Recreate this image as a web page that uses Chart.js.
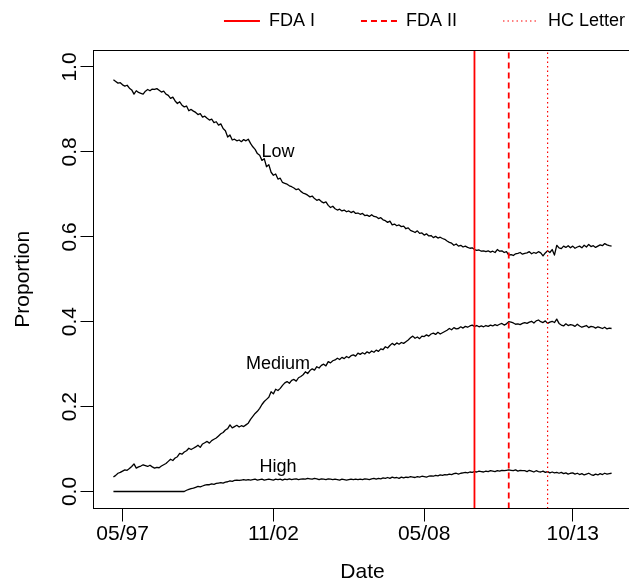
<!DOCTYPE html>
<html>
<head>
<meta charset="utf-8">
<title>Proportion by date</title>
<script src="https://cdn.jsdelivr.net/npm/chart.js@4.4.1/dist/chart.umd.min.js"></script>
<style>
  html, body { margin: 0; padding: 0; background: #fff; overflow: hidden; }
  canvas { display: block; }
</style>
</head>
<body>
<canvas id="propChart" width="671" height="579"></canvas>
<script>
// monthly shares, Jan 1997 .. Mar 2015 (one row per year)
const lowShare = [
  0.970, 0.966, 0.962, 0.963, 0.958, 0.955, 0.957, 0.950, 0.946, 0.936, 0.944, 0.940,
  0.938, 0.936, 0.943, 0.947, 0.944, 0.948, 0.947, 0.949, 0.945, 0.941, 0.943, 0.936,
  0.933, 0.926, 0.929, 0.920, 0.914, 0.918, 0.910, 0.906, 0.908, 0.897, 0.900, 0.896,
  0.893, 0.888, 0.890, 0.882, 0.884, 0.879, 0.875, 0.877, 0.869, 0.871, 0.863, 0.866,
  0.855, 0.850, 0.835, 0.840, 0.828, 0.830, 0.826, 0.828, 0.824, 0.829, 0.826, 0.830,
  0.820, 0.812, 0.806, 0.796, 0.792, 0.780, 0.784, 0.765, 0.770, 0.752, 0.745, 0.748,
  0.736, 0.738, 0.728, 0.726, 0.724, 0.720, 0.718, 0.715, 0.711, 0.713, 0.707, 0.703,
  0.701, 0.698, 0.694, 0.696, 0.690, 0.686, 0.688, 0.683, 0.680, 0.682, 0.674, 0.669,
  0.672, 0.666, 0.663, 0.665, 0.661, 0.663, 0.659, 0.661, 0.657, 0.660, 0.655, 0.656,
  0.653, 0.655, 0.650, 0.651, 0.648, 0.652, 0.648, 0.647, 0.643, 0.645, 0.640, 0.638,
  0.634, 0.637, 0.628, 0.630, 0.626, 0.628, 0.624, 0.625, 0.619, 0.621, 0.615, 0.613,
  0.610, 0.614, 0.608, 0.609, 0.604, 0.607, 0.602, 0.603, 0.598, 0.601, 0.597, 0.599,
  0.596, 0.594, 0.590, 0.587, 0.585, 0.580, 0.583, 0.578, 0.580, 0.576, 0.578, 0.575,
  0.573, 0.574, 0.570, 0.568, 0.569, 0.566, 0.567, 0.565, 0.567, 0.564, 0.566, 0.563,
  0.570, 0.566, 0.567, 0.563, 0.565, 0.557, 0.558, 0.556, 0.560, 0.561, 0.563, 0.559,
  0.561, 0.562, 0.565, 0.560, 0.563, 0.561, 0.565, 0.562, 0.555, 0.562, 0.567, 0.563,
  0.570, 0.557, 0.580, 0.574, 0.572, 0.578, 0.575, 0.579, 0.574, 0.578, 0.573, 0.576,
  0.578, 0.574, 0.580, 0.576, 0.582, 0.577, 0.579, 0.575, 0.578, 0.581, 0.579, 0.584,
  0.581, 0.579, 0.578
];

const mediumShare = [
  0.034, 0.038, 0.043, 0.045, 0.048, 0.051, 0.050, 0.054, 0.059, 0.065, 0.055, 0.058,
  0.060, 0.063, 0.061, 0.059, 0.062, 0.058, 0.055, 0.057, 0.056, 0.060, 0.063, 0.066,
  0.071, 0.076, 0.073, 0.079, 0.082, 0.090, 0.088, 0.093, 0.096, 0.102, 0.099, 0.102,
  0.105, 0.109, 0.104, 0.112, 0.115, 0.118, 0.114, 0.120, 0.123, 0.126, 0.131, 0.136,
  0.139, 0.145, 0.148, 0.157, 0.150, 0.153, 0.156, 0.152, 0.155, 0.153, 0.157, 0.161,
  0.170, 0.177, 0.184, 0.189, 0.196, 0.205, 0.212, 0.217, 0.222, 0.235, 0.230, 0.241,
  0.238, 0.243, 0.250, 0.256, 0.259, 0.255, 0.262, 0.264, 0.260, 0.268, 0.271, 0.275,
  0.282, 0.278, 0.285, 0.289, 0.286, 0.294, 0.291, 0.297, 0.300, 0.296, 0.306, 0.303,
  0.308, 0.310, 0.314, 0.311, 0.316, 0.313, 0.318, 0.315, 0.320, 0.322, 0.319, 0.326,
  0.323, 0.327, 0.324, 0.329, 0.326, 0.331, 0.328, 0.333, 0.330, 0.336, 0.334, 0.341,
  0.338, 0.344, 0.349, 0.345, 0.350, 0.347, 0.351, 0.349, 0.353, 0.357, 0.362, 0.366,
  0.361, 0.364, 0.360, 0.366, 0.365, 0.369, 0.366, 0.371, 0.373, 0.370, 0.375, 0.371,
  0.374, 0.377, 0.380, 0.384, 0.381, 0.386, 0.383, 0.384, 0.388, 0.385, 0.389, 0.387,
  0.390, 0.392, 0.389, 0.391, 0.388, 0.390, 0.388, 0.391, 0.389, 0.392, 0.390, 0.393,
  0.391, 0.394, 0.396, 0.392, 0.395, 0.400, 0.399, 0.397, 0.394, 0.395, 0.393, 0.396,
  0.398, 0.396, 0.399, 0.401, 0.397, 0.402, 0.404, 0.400, 0.398, 0.402, 0.396, 0.399,
  0.401, 0.398, 0.406, 0.396, 0.392, 0.390, 0.395, 0.391, 0.393, 0.392, 0.389, 0.394,
  0.390, 0.387, 0.389, 0.391, 0.386, 0.389, 0.388, 0.385, 0.388, 0.386, 0.384, 0.387,
  0.383, 0.385, 0.384
];

const highShare = [
  0, 0, 0, 0, 0, 0, 0, 0, 0, 0, 0, 0,
  0, 0, 0, 0, 0, 0, 0, 0, 0, 0, 0, 0,
  0, 0, 0, 0, 0, 0, 0, 0, 0.003, 0.005, 0.007, 0.008,
  0.010, 0.012, 0.011, 0.013, 0.015, 0.016, 0.016, 0.018, 0.017, 0.019, 0.020, 0.021,
  0.020, 0.022, 0.023, 0.025, 0.024, 0.026, 0.027, 0.026, 0.027, 0.028, 0.027, 0.028,
  0.027, 0.028, 0.029, 0.027, 0.028, 0.029, 0.027, 0.028, 0.029, 0.028, 0.027, 0.029,
  0.028, 0.029, 0.027, 0.029, 0.028, 0.030, 0.028, 0.029, 0.030, 0.028, 0.029, 0.030,
  0.029, 0.031, 0.030, 0.029, 0.031, 0.030, 0.028, 0.030, 0.029, 0.028, 0.030, 0.029,
  0.028, 0.029, 0.028, 0.027, 0.029, 0.028, 0.027, 0.028, 0.029, 0.028, 0.029, 0.028,
  0.029, 0.028, 0.030, 0.029, 0.028, 0.030, 0.031, 0.029, 0.031, 0.030, 0.032, 0.031,
  0.033, 0.031, 0.034, 0.032, 0.033, 0.031, 0.034, 0.032, 0.034, 0.033, 0.035, 0.034,
  0.033, 0.035, 0.034, 0.036, 0.035, 0.034, 0.036, 0.037, 0.036, 0.038, 0.037, 0.039,
  0.038, 0.040, 0.039, 0.041, 0.040, 0.042, 0.043, 0.041, 0.043, 0.044, 0.045, 0.044,
  0.046, 0.045, 0.047, 0.046, 0.048, 0.047, 0.046, 0.048, 0.047, 0.049, 0.048, 0.047,
  0.049, 0.048, 0.050, 0.049, 0.050, 0.051, 0.050, 0.049, 0.051, 0.048, 0.050, 0.049,
  0.049, 0.047, 0.050, 0.048, 0.046, 0.049, 0.047, 0.046, 0.048, 0.045, 0.047, 0.044,
  0.046, 0.044, 0.045, 0.043, 0.045, 0.042, 0.044, 0.041, 0.043, 0.044, 0.041, 0.043,
  0.040, 0.042, 0.039, 0.041, 0.043, 0.040, 0.038, 0.041, 0.039, 0.042, 0.040, 0.043,
  0.041, 0.042, 0.043
];

const seriesNames = ["Low", "Medium", "High"];
// where the series names are written (month index, proportion)
const nameMonths = [72, 72, 72];
const nameValues = [0.80, 0.30, 0.058];

// month index 0 = Jan 1997
const tickMonths = [4, 70, 136, 201];
const tickLabels = ["05/97", "11/02", "05/08", "10/13"];
const yTicks = [0, 0.2, 0.4, 0.6, 0.8, 1.0];

const eventNames = ["FDA I", "FDA II", "HC Letter"];
const eventMonths = [158, 173, 190];

const xMin = -8.72, xMax = 226.72;
const yMin = -0.04, yMax = 1.04;

// plot box in canvas pixels
const canvasW = 671, canvasH = 579;
const plotLeft = 93.5, plotTop = 50, plotBottom = 508.5, plotRight = 631.5;
const legendGap = 10;

const eventStyles = [
  { dash: [], width: 1.8 },
  { dash: [6, 4], width: 1.8 },
  { dash: [1.5, 3], width: 1.2 },
];

Chart.defaults.font.family = '"Liberation Sans", Arial, Helvetica, sans-serif';
Chart.defaults.color = "#000";

const months = lowShare.map((_, i) => i);
const toPoints = (vals) => vals.map((v, i) => ({ x: months[i], y: v }));

const eventSets = eventNames.map((name, k) => ({
  label: name,
  data: [{ x: eventMonths[k], y: yMin }, { x: eventMonths[k], y: yMax }],
  borderColor: "#ff0000",
  backgroundColor: "#ff0000",
  borderWidth: eventStyles[k].width,
  borderDash: eventStyles[k].dash,
  pointRadius: 0,
}));

const seriesSets = [lowShare, mediumShare, highShare].map((vals, k) => ({
  label: seriesNames[k],
  data: toPoints(vals),
  borderColor: "#000",
  borderWidth: 1.3,
  borderJoinStyle: "round",
  pointRadius: 0,
  tension: 0,
}));

const boxPlugin = {
  id: "plotBox",
  afterDraw(chart) {
    const { ctx, chartArea: a } = chart;
    const l = Math.floor(a.left) + 0.5, t = Math.floor(a.top) + 0.5;
    const r = Math.floor(a.right) + 0.5, b = Math.floor(a.bottom) + 0.5;
    ctx.save();
    ctx.strokeStyle = "#000";
    ctx.lineWidth = 1;
    ctx.strokeRect(l, t, r - l, b - t);
    ctx.restore();
  },
};

const namePlugin = {
  id: "seriesNames",
  afterDatasetsDraw(chart) {
    const { ctx, scales: { x, y } } = chart;
    ctx.save();
    ctx.font = '18px "Liberation Sans", Arial, sans-serif';
    ctx.fillStyle = "#000";
    ctx.textAlign = "center";
    ctx.textBaseline = "middle";
    seriesNames.forEach((name, k) => {
      ctx.fillText(name, x.getPixelForValue(nameMonths[k]), y.getPixelForValue(nameValues[k]));
    });
    ctx.restore();
  },
};

const tickGrid = {
  drawOnChartArea: false,
  drawTicks: true,
  tickLength: 13,
  color: "#000",
  lineWidth: 1,
};

new Chart(document.getElementById("propChart"), {
  type: "line",
  data: { datasets: [...eventSets, ...seriesSets] },
  options: {
    responsive: false,
    animation: false,
    layout: { padding: { top: -34, left: 0, right: 0, bottom: 0 } },
    scales: {
      x: {
        type: "linear",
        min: xMin,
        max: xMax,
        afterBuildTicks: (s) => { s.ticks = tickMonths.map((v) => ({ value: v })); },
        afterFit: (s) => {
          s.height = canvasH - plotBottom;
          s.paddingRight = canvasW - plotRight;
        },
        ticks: {
          autoSkip: false,
          minRotation: 0,
          maxRotation: 0,
          padding: 0,
          color: "#000",
          font: { size: 21 },
          callback: (v, i) => tickLabels[i],
        },
        grid: tickGrid,
        border: { display: false },
        title: { display: true, text: "Date", color: "#000", font: { size: 21 }, padding: { top: 0, bottom: -6 } },
      },
      // empty strip between the legend and the plot box
      gap: {
        type: "linear",
        position: "top",
        grid: { display: false },
        ticks: { display: false },
        border: { display: false },
        afterFit: (s) => { s.height = legendGap; },
      },
      y: {
        type: "linear",
        min: yMin,
        max: yMax,
        afterBuildTicks: (s) => { s.ticks = yTicks.map((v) => ({ value: v })); },
        afterFit: (s) => {
          s.width = plotLeft;
          s.paddingTop = plotTop;
        },
        ticks: {
          minRotation: 90,
          maxRotation: 90,
          crossAlign: "center",
          padding: -4,
          color: "#000",
          font: { size: 21 },
          callback: (v) => Number(v).toFixed(1),
        },
        grid: tickGrid,
        border: { display: false },
        title: { display: true, text: "Proportion", color: "#000", font: { size: 21 }, padding: { top: 11, bottom: 0 } },
      },
    },
    plugins: {
      tooltip: { enabled: false },
      legend: {
        position: "top",
        align: "end",
        labels: {
          usePointStyle: true,
          pointStyle: "line",
          pointStyleWidth: 36,
          padding: 46,
          color: "#000",
          font: { size: 18 },
          generateLabels(chart) {
            const items = Chart.defaults.plugins.legend.labels.generateLabels(chart);
            return items
              .filter((it) => it.datasetIndex < eventNames.length)
              .map((it) => {
                const ds = chart.data.datasets[it.datasetIndex];
                return Object.assign(it, {
                  lineDash: ds.borderDash,
                  lineWidth: ds.borderWidth,
                  strokeStyle: ds.borderColor,
                  pointStyle: "line",
                });
              });
          },
        },
      },
    },
  },
  plugins: [boxPlugin, namePlugin],
});
</script>
</body>
</html>
